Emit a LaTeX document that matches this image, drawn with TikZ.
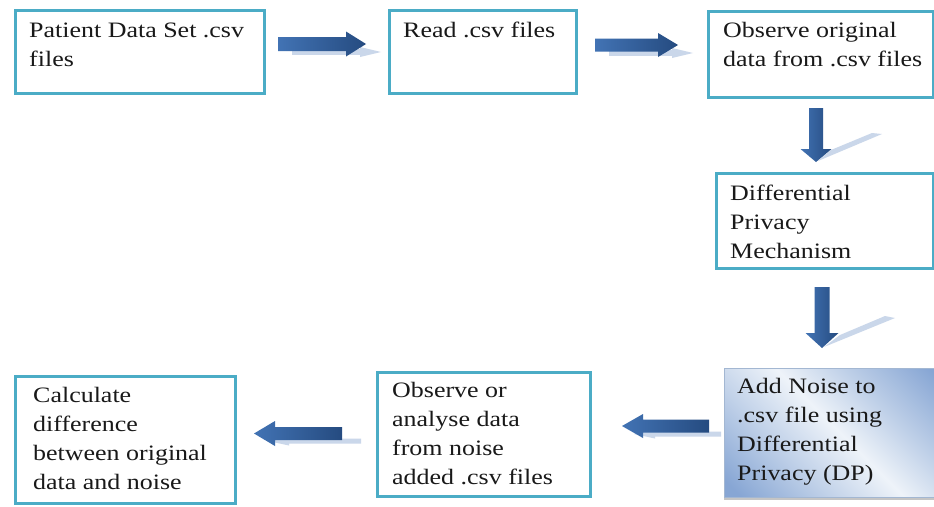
\documentclass[tikz,border=0pt]{standalone}
\usepackage{fontspec}
\newfontfamily\boxfont[FakeStretch=1.18]{Liberation Serif}
\usetikzlibrary{shadows}
\definecolor{boxline}{HTML}{4BACC6}
\definecolor{arrowlight}{HTML}{4273B4}
\definecolor{arrowdark}{HTML}{254B80}
\definecolor{shadowblue}{HTML}{CAD7EA}
\definecolor{noiselight}{HTML}{EEF3F9}
\definecolor{noisemid}{HTML}{BFD0E8}
\definecolor{noisedark}{HTML}{87A6D4}
\definecolor{noiseline}{HTML}{A3B7D2}
\pgfdeclareverticalshading{noisereflect}{100bp}{color(0bp)=(noisedark); color(18bp)=(noisedark); color(36bp)=(noisemid); color(52bp)=(noiselight); color(66bp)=(noisemid); color(84bp)=(noisedark); color(100bp)=(noisedark)}
\newcommand\fstrut{\rule{0pt}{20pt}}
% horizontal block arrow: tail x, tip x, centre y, shaft half, head base x, head half
\newcommand\hArrowShape[6]{(#1,#3-#4) -- (#5,#3-#4) -- (#5,#3-#6) -- (#2,#3) -- (#5,#3+#6) -- (#5,#3+#4) -- (#1,#3+#4) -- cycle}
% vertical block arrow: centre x, tail y, tip y, shaft half, head base y, head half
\newcommand\vArrowShape[6]{(#1-#4,#2) -- (#1-#4,#5) -- (#1-#6,#5) -- (#1,#3) -- (#1+#6,#5) -- (#1+#4,#5) -- (#1+#4,#2) -- cycle}
\begin{document}
\begin{tikzpicture}[x=1pt,y=-1pt,
  box/.style={draw=boxline, line width=3.2pt, rectangle, inner sep=0pt, anchor=north west},
  noisebox/.style={draw=noiseline, line width=1pt, rectangle, inner sep=0pt, anchor=north west,
    shading=noisereflect, shading angle=-45,
    drop shadow={shadow xshift=0pt, shadow yshift=-3pt, fill=black!45, opacity=0.5}},
  txt/.style={anchor=north west, inner sep=0pt, align=left, text=black!90,
    font=\boxfont\fontsize{22}{29}\selectfont},
  arrowbody/.style={left color=arrowlight, right color=arrowdark},
  arrowshadow/.style={fill=shadowblue}]
\useasboundingbox[fill=white] (0,0) rectangle (934,506);

% boxes
\node[box, minimum width=249pt, minimum height=83pt] (b1) at (13.5,8.5) {};
\node[box, minimum width=187pt, minimum height=83pt] (b2) at (387.5,8.5) {};
\node[box, minimum width=225pt, minimum height=86pt] (b3) at (706.5,9.5) {};
\node[box, minimum width=217pt, minimum height=95pt] (b4) at (714.5,171.5) {};
\node[noisebox, minimum width=212pt, minimum height=129pt] (b5) at (723.5,367.5) {};
\node[box, minimum width=213pt, minimum height=124pt] (b6) at (375.5,370.5) {};
\node[box, minimum width=220pt, minimum height=127pt] (b7) at (13.5,374.5) {};

% texts
\node[txt] (t1) at (29,17) {\fstrut Patient Data Set .csv\\files};
\node[txt] (t2) at (403,17) {\fstrut Read .csv files};
\node[txt] (t3) at (723,17) {\fstrut Observe original\\data from .csv files};
\node[txt] (t4) at (730,180) {\fstrut Differential\\Privacy\\Mechanism};
\node[txt] (t5) at (737,373) {\fstrut Add Noise to\\.csv file using\\Differential\\Privacy (DP)};
\node[txt] (t6) at (392,377) {\fstrut Observe or\\analyse data\\from noise\\added .csv files};
\node[txt] (t7) at (33,382) {\fstrut Calculate\\difference\\between original\\data and noise};

% arrow shadows
\fill[arrowshadow] \hArrowShape{292}{381}{52}{2.8}{360}{5};
\fill[arrowshadow] \hArrowShape{609}{693}{53}{2.8}{672}{5};
\fill[arrowshadow] (818,161) -- (831,150) -- (872,133) -- (882,134) -- cycle;
\fill[arrowshadow] (824,347) -- (840,335) -- (885,316) -- (895,318) -- cycle;
\fill[arrowshadow] \hArrowShape{721}{634}{434}{2.5}{655}{4.5};
\fill[arrowshadow] \hArrowShape{361}{268}{441}{2.5}{289}{4.5};

% block arrows
\shade[arrowbody] \hArrowShape{278}{366}{44}{7}{346}{12.5};
\shade[arrowbody] \hArrowShape{595}{678}{45}{6.5}{658}{12};
\shade[arrowbody] \vArrowShape{816}{108}{162}{7}{149}{15.5};
\shade[arrowbody] \vArrowShape{822}{287}{348}{7.5}{333}{16.5};
\shade[arrowbody] \hArrowShape{709}{622}{426}{6.5}{643}{12};
\shade[arrowbody] \hArrowShape{342}{254}{433.5}{6.5}{275}{12.5};
\end{tikzpicture}
\end{document}
